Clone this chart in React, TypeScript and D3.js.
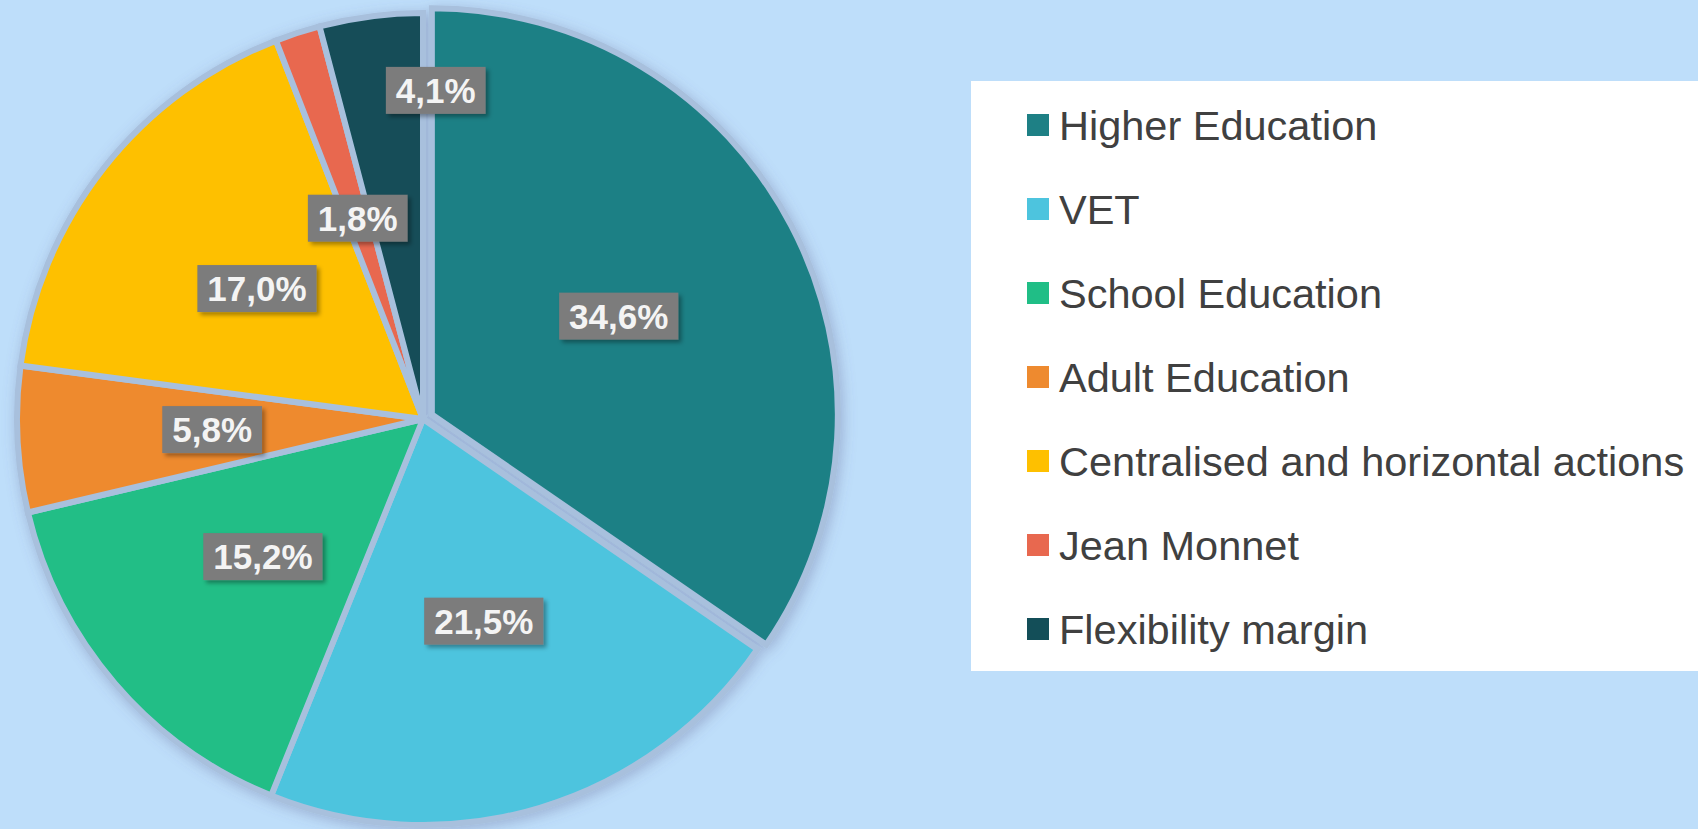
import React from "react";
import * as d3 from "d3";

const categories = [
  "Higher Education",
  "VET",
  "School Education",
  "Adult Education",
  "Centralised and horizontal actions",
  "Jean Monnet",
  "Flexibility margin",
];
const shares = [34.6, 21.5, 15.2, 5.8, 17.0, 1.8, 4.1];
const labels = ["34,6%", "21,5%", "15,2%", "5,8%", "17,0%", "1,8%", "4,1%"];
const colors = ["#1e8085", "#4dc4de", "#20be86", "#ee8a2f", "#fec000", "#e8684f", "#134e58"];

const W = 1698;
const H = 829;
const BG = "#bedefa";
const SEP = "#a8c0dd";

// layout settings
const cx = 423;
const cy = 419;
const R = 406;
const explodeIndex = 0;
const explodeDist = 10;
const labelRadiusFrac = 0.52;
const labelOverrides: Record<string, { frac: number; shift: number }> = {
  "Flexibility margin": { frac: 0.81, shift: 9.6 },
};
const labelFont = 35;
const legendFont = 41.5;

export default function App() {
  const pie = d3.pie<number>().sort(null).value((d) => d);
  const arcs = pie(shares);
  const arcGen = d3.arc<d3.PieArcDatum<number>>().innerRadius(0).outerRadius(R);

  const legendX = 971;
  const legendTop = 81;
  const legendBottom = 671;
  const rowY = d3
    .scalePoint<number>()
    .domain(d3.range(categories.length))
    .range([125, 629]);

  const measure = (s: string) => {
    // Liberation Sans Bold advance widths (per 1000 em)
    const w: Record<string, number> = { ",": 278, "%": 889 };
    let t = 0;
    for (const ch of s) t += w[ch] ?? 556;
    return (t / 1000) * labelFont;
  };

  return (
    <div style={{ position: "fixed", left: 0, top: 0, width: W, height: H, background: BG }}>
      <svg width={W} height={H} style={{ display: "block" }}>
        <defs>
          <filter id="pieShadow" x="-20%" y="-20%" width="140%" height="140%">
            <feDropShadow dx="2" dy="3" stdDeviation="7" floodColor="#5a5a8a" floodOpacity="0.35" />
          </filter>
          <filter id="lblShadow" x="-20%" y="-20%" width="150%" height="160%">
            <feDropShadow dx="3" dy="3" stdDeviation="2" floodColor="#000" floodOpacity="0.35" />
          </filter>
        </defs>
        <rect width={W} height={H} fill={BG} />
        <g transform={`translate(${cx},${cy})`} filter="url(#pieShadow)">
          {arcs.map((a, i) => {
            const mid = (a.startAngle + a.endAngle) / 2;
            const d = i === explodeIndex ? explodeDist : 0;
            const tx = Math.sin(mid) * d;
            const ty = -Math.cos(mid) * d;
            return (
              <path
                key={i}
                d={arcGen(a) || ""}
                transform={`translate(${tx},${ty})`}
                fill={colors[i]}
                stroke={SEP}
                strokeWidth={6}
                strokeLinejoin="miter"
              />
            );
          })}
        </g>
        <g transform={`translate(${cx},${cy})`}>
          {arcs.map((a, i) => {
            const ov = labelOverrides[categories[i]];
            const frac = ov ? ov.frac : labelRadiusFrac;
            const mid = (a.startAngle + a.endAngle) / 2 + ((ov ? ov.shift : 0) * Math.PI) / 180;
            const d = i === explodeIndex ? explodeDist : 0;
            const rr = R * frac + d;
            const x = Math.sin(mid) * rr;
            const y = -Math.cos(mid) * rr;
            const tw = measure(labels[i]);
            const bw = tw + 20;
            const bh = 47;
            return (
              <g key={i} transform={`translate(${x},${y})`}>
                <rect
                  x={-bw / 2}
                  y={-bh / 2}
                  width={bw}
                  height={bh}
                  fill="#7b7b7b"
                  filter="url(#lblShadow)"
                />
                <text
                  textAnchor="middle"
                  dy="0.36em"
                  fontFamily="'Liberation Sans', Arial, sans-serif"
                  fontWeight="bold"
                  fontSize={labelFont}
                  fill="#f4f4f4"
                >
                  {labels[i]}
                </text>
              </g>
            );
          })}
        </g>
        <rect x={legendX} y={legendTop} width={W - legendX} height={legendBottom - legendTop} fill="#ffffff" />
        {categories.map((c, i) => {
          const y = rowY(i) as number;
          return (
            <g key={c}>
              <rect x={1027} y={y - 11} width={22} height={22} fill={colors[i]} />
              <text
                x={1059}
                y={y}
                dy="0.36em"
                fontFamily="'Liberation Sans', Arial, sans-serif"
                fontSize={legendFont}
                fill="#404040"
              >
                {c}
              </text>
            </g>
          );
        })}
      </svg>
    </div>
  );
}
